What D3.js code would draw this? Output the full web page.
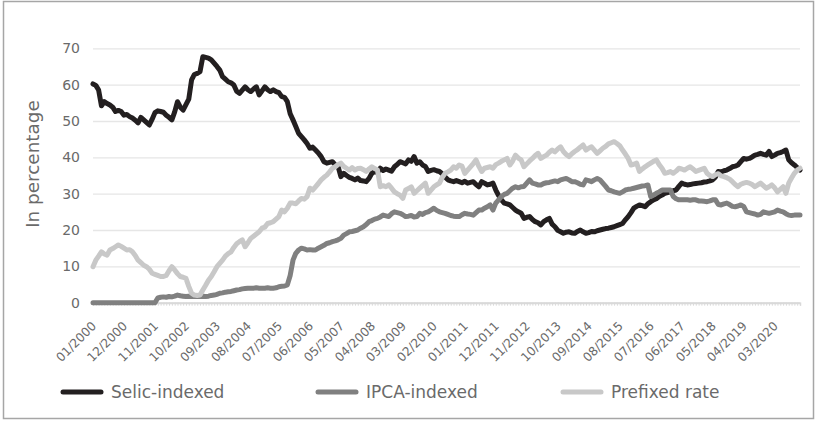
<!DOCTYPE html>
<html>
<head>
<meta charset="utf-8">
<script src="https://cdn.jsdelivr.net/npm/d3@7"></script>
<style>
  html, body { margin: 0; padding: 0; background: #fff; }
  svg { display: block; }
  text { font-family: "DejaVu Sans", "Liberation Sans", Arial, sans-serif; font-weight: normal; }
</style>
</head>
<body>
<svg id="chart" width="816" height="421"></svg>
<script>
// ---- DATA (monthly, 01/2000 .. 12/2020, share of public debt in %) ----
const startYear = 2000;
const nMonths = 252;

const seriesNames = ["Selic-indexed", "IPCA-indexed", "Prefixed rate"];

const selic = [
  60.2, 59.8, 58.5, 54.2, 55.3, 54.8, 54.4, 53.8, 52.6, 52.9, 52.6, 51.6,
  51.8, 51.2, 50.8, 50.2, 49.5, 51.0, 50.3, 49.6, 48.9, 50.5, 52.3, 52.8,
  52.6, 52.4, 51.6, 51.0, 50.3, 52.5, 55.3, 53.8, 53.0, 54.5, 56.0, 61.3,
  62.8, 63.1, 63.6, 67.7, 67.5, 67.3, 66.8, 65.9, 65.0, 64.0, 62.2, 61.5,
  60.8, 60.5, 59.9, 58.2, 57.6, 58.5, 59.4, 58.6, 58.1, 58.8, 59.4, 57.2,
  58.3, 59.4, 58.6, 58.1, 58.6, 58.1, 57.8, 56.7, 56.5, 55.3, 52.0, 50.3,
  48.5, 46.6, 45.7, 44.8, 43.8, 42.5, 42.8, 42.0, 41.2, 40.2, 38.8, 38.4,
  38.6, 38.8, 37.9, 37.5, 34.7, 35.6, 35.0, 34.5, 34.2, 33.8, 34.3, 33.6,
  33.5, 33.3, 34.2, 35.6, 36.1, 35.8, 37.0, 36.4, 36.8, 36.5, 36.2, 37.4,
  38.0, 38.8, 38.5, 38.2, 39.3, 38.9, 40.2, 38.4, 38.8, 37.9, 37.5, 36.1,
  36.4, 36.6, 36.3, 36.1, 35.5, 34.6, 33.8, 33.5, 33.3, 33.6, 33.3, 33.0,
  33.4, 32.9, 33.1, 33.3, 32.5, 31.9, 33.3, 32.9, 32.4, 32.6, 32.9, 31.0,
  29.5, 28.3, 27.4, 27.2, 26.9, 26.2, 25.5, 25.0, 24.6, 23.2, 23.5, 23.7,
  22.9, 22.3, 22.0, 21.4, 22.3, 22.8, 23.2, 21.6, 20.9, 19.9, 19.5, 19.1,
  19.4, 19.5, 19.2, 19.1, 19.6, 20.0, 19.5, 19.1, 19.3, 19.6, 19.5, 19.8,
  20.0, 20.2, 20.4, 20.5, 20.7, 20.9, 21.2, 21.5, 21.8, 22.8, 23.7, 24.8,
  26.0, 26.5, 26.9, 26.7, 26.4, 27.2, 27.8, 28.3, 28.6, 29.2, 29.6, 30.1,
  30.3, 30.5, 30.8, 31.0, 32.0, 32.9, 32.6, 32.4, 32.5, 32.7, 32.8, 32.9,
  33.0, 33.2, 33.3, 33.5, 33.8, 34.6, 36.1, 36.0, 36.3, 36.5, 36.9, 37.4,
  37.6, 37.9, 38.8, 39.7, 39.5, 39.7, 40.1, 40.6, 40.8, 41.1, 40.8, 40.6,
  41.6, 40.2, 40.6, 41.1, 41.3, 41.6, 42.0, 39.3, 38.5, 37.9, 37.2, 36.5
];

const ipca = [
  0, 0, 0, 0, 0, 0, 0, 0, 0, 0, 0, 0,
  0, 0, 0, 0, 0, 0, 0, 0, 0, 0, 0, 1.3,
  1.5, 1.6, 1.5, 1.7, 1.6, 1.8, 2.1, 1.9, 1.8, 1.7, 1.8, 1.7,
  1.7, 1.8, 1.7, 1.8, 1.7, 1.8, 2.0, 2.1, 2.3, 2.6, 2.7, 2.9,
  3.0, 3.1, 3.3, 3.5, 3.6, 3.8, 3.9, 4.0, 4.0, 4.0, 4.1, 4.0,
  4.0, 4.0, 4.1, 4.0, 4.0, 4.1, 4.4, 4.5, 4.6, 4.9, 7.5, 11.7,
  13.6, 14.5, 15.0, 14.8, 14.5, 14.6, 14.5, 14.5, 15.0, 15.4, 15.8, 16.3,
  16.5, 16.8, 17.0, 17.3, 17.7, 18.6, 19.0, 19.5, 19.6, 19.8, 20.0, 20.5,
  20.9, 21.5, 22.3, 22.6, 23.0, 23.2, 23.6, 24.1, 23.9, 23.7, 24.5, 25.0,
  24.8, 24.6, 24.2, 23.7, 23.8, 24.0, 23.6, 23.7, 24.6, 24.3, 24.8, 25.0,
  25.5, 26.0, 25.4, 25.0, 24.8, 24.6, 24.3, 24.0, 23.8, 23.7, 23.7, 24.2,
  24.6, 24.4, 24.3, 24.1, 24.8, 25.5, 25.5, 26.0, 26.4, 26.9, 25.5, 27.4,
  28.3, 29.2, 29.8, 30.1, 30.8, 31.5, 31.9, 31.6, 31.9, 32.0, 32.9, 33.8,
  32.9, 32.7, 32.4, 32.4, 32.8, 33.0, 33.1, 33.3, 33.5, 33.3, 33.8, 34.0,
  34.2, 33.8, 33.3, 33.3, 33.0, 32.6, 32.4, 33.8, 33.6, 33.3, 33.8, 34.2,
  33.8, 32.9, 32.0, 31.0, 30.8, 30.5, 30.3, 30.1, 30.5, 31.0, 31.2, 31.3,
  31.5, 31.7, 31.9, 32.1, 32.2, 32.4, 29.2, 29.6, 30.1, 30.5, 31.0, 31.0,
  31.0, 31.0, 29.2, 28.6, 28.3, 28.3, 28.3, 28.3, 28.2, 28.3, 28.3, 28.0,
  28.0, 27.9, 27.8, 28.0, 28.3, 28.3, 27.0, 26.9, 27.2, 27.4, 27.0, 26.5,
  26.4, 26.6, 26.9, 26.5, 25.0, 24.8, 24.6, 24.4, 24.1, 24.3, 25.0, 24.8,
  24.6, 24.8, 25.0, 25.5, 25.2, 25.0, 24.5, 24.1, 24.0, 24.1, 24.1, 24.1
];

const prefixed = [
  9.9, 11.7, 12.8, 14.0, 13.4, 13.1, 14.5, 14.9, 15.4, 15.9, 15.5, 15.0,
  14.5, 14.6, 14.0, 13.0, 11.7, 11.0, 10.3, 9.9, 9.2, 8.1, 7.8, 7.5,
  7.2, 7.2, 7.5, 8.8, 9.9, 9.0, 8.0, 7.2, 7.0, 6.7, 4.5, 2.6,
  2.1, 2.0, 2.1, 3.5, 4.8, 6.2, 7.2, 8.5, 9.9, 10.8, 11.7, 12.8,
  13.5, 14.0, 15.2, 16.2, 16.8, 17.3, 15.4, 16.5, 17.7, 18.3, 18.9, 19.5,
  20.5, 20.8, 21.8, 22.0, 22.3, 23.0, 23.7, 25.5, 25.0, 26.0, 27.4, 27.4,
  27.2, 28.0, 28.7, 28.5, 29.2, 31.5, 31.0, 31.9, 32.8, 33.8, 34.5, 35.1,
  36.0, 37.0, 37.4, 38.0, 38.4, 37.5, 37.0, 36.5, 37.2, 36.5, 36.9, 37.0,
  36.6, 36.1, 36.8, 37.4, 36.9, 36.5, 31.9, 32.2, 31.9, 32.4, 31.5, 30.5,
  30.0, 29.6, 28.7, 31.0, 31.4, 31.9, 30.1, 30.8, 31.5, 32.2, 32.9, 30.1,
  31.0, 31.9, 32.4, 32.9, 34.5, 35.6, 36.0, 36.5, 37.4, 37.0, 37.9, 37.6,
  35.6, 36.5, 37.4, 38.3, 39.3, 37.5, 36.1, 37.0, 37.2, 37.4, 37.0, 38.0,
  38.4, 38.9, 39.3, 39.7, 37.9, 39.0, 40.6, 39.8, 39.3, 37.4, 38.2, 39.0,
  39.7, 40.5, 41.1, 39.7, 40.2, 40.6, 41.4, 42.0, 41.5, 42.3, 42.9, 41.6,
  40.8, 40.2, 41.0, 41.6, 42.1, 42.8, 43.4, 42.0, 42.5, 42.9, 42.0, 41.1,
  41.8, 42.5, 43.0, 43.7, 44.0, 44.3, 43.8, 43.2, 42.0, 40.9, 39.7, 37.9,
  38.1, 38.4, 36.1, 36.8, 37.4, 37.9, 38.4, 38.9, 39.3, 38.0, 37.0, 35.6,
  35.8, 36.1, 35.6, 36.2, 37.0, 36.8, 36.5, 37.0, 37.4, 36.8, 36.1, 36.4,
  36.7, 37.0, 35.6, 35.0, 34.7, 35.2, 35.5, 34.9, 34.7, 34.4, 34.0, 33.3,
  32.5, 31.9, 32.6, 32.9, 33.1, 32.9, 32.5, 31.9, 32.4, 32.9, 32.2, 31.5,
  31.9, 32.4, 31.6, 30.5, 31.2, 31.9, 30.1, 32.9, 34.3, 35.6, 36.5, 37.0
];

const tickLabels = [
  "01/2000", "12/2000", "11/2001", "10/2002", "09/2003", "08/2004",
  "07/2005", "06/2006", "05/2007", "04/2008", "03/2009", "02/2010",
  "01/2011", "12/2011", "11/2012", "10/2013", "09/2014", "08/2015",
  "07/2016", "06/2017", "05/2018", "04/2019", "03/2020"
];
const yTicks = [0, 10, 20, 30, 40, 50, 60, 70];
const yTitle = "In percentage";

// ---- LAYOUT / STYLE ----
const colors = ["#231f20", "#808080", "#c8c8c8"];
const plotLeft = 93, plotRight = 800, plotTop = 48.3, plotBottom = 302.7;
const textColor = "#6a6a6a";

const months = d3.range(nMonths).map(i =>
  String(i % 12 + 1).padStart(2, "0") + "/" + (startYear + Math.floor(i / 12)));

const svg = d3.select("#chart");

// outer frame
svg.append("rect")
  .attr("x", 3.5).attr("y", 1.5).attr("width", 810).attr("height", 417)
  .attr("fill", "none").attr("stroke", "#a6a6a6").attr("stroke-width", 1.5);

const x = d3.scalePoint().domain(months).range([plotLeft, plotRight]);
const y = d3.scaleLinear().domain([0, 70]).range([plotBottom, plotTop]);

// gridlines + y labels
const yAxis = d3.axisLeft(y).tickValues(yTicks).tickSize(-(plotRight - plotLeft)).tickPadding(13);
const gy = svg.append("g").attr("transform", `translate(${plotLeft},0)`).call(yAxis);
gy.select(".domain").remove();
gy.selectAll(".tick line").attr("stroke", "#e6e6e6").attr("stroke-width", 1.3)
  .filter(d => d === 0).attr("stroke", "#d9d9d9").attr("stroke-width", 2);
gy.selectAll(".tick text").attr("fill", textColor).attr("font-size", 14)
  .attr("font-family", null);

// x axis: monthly minor ticks
const gx = svg.append("g").attr("transform", `translate(0,${plotBottom})`);
gx.call(d3.axisBottom(x).tickValues(months).tickSize(3).tickFormat(""));
gx.select(".domain").attr("stroke", "#d9d9d9").attr("stroke-width", 1.5);
gx.selectAll(".tick line").attr("stroke", "#d9d9d9").attr("stroke-width", 1);

// x labels
const gl = svg.append("g");
gl.selectAll("text").data(tickLabels).join("text")
  .attr("transform", d => `translate(${x(d) + 1},${plotBottom + 21}) rotate(-45)`)
  .attr("text-anchor", "end")
  .attr("dy", "0.35em")
  .attr("fill", textColor)
  .attr("font-size", 12.2)
  .text(d => d);

// y title
svg.append("text")
  .attr("transform", `translate(38.5,164) rotate(-90)`)
  .attr("text-anchor", "middle")
  .attr("fill", textColor)
  .attr("font-size", 18.4)
  .text(yTitle);

// lines
const line = d3.line().x((d, i) => x(months[i])).y(d => y(d));
const allSeries = [selic, ipca, prefixed];
svg.append("g").selectAll("path").data(allSeries).join("path")
  .attr("d", d => line(d))
  .attr("fill", "none")
  .attr("stroke", (d, i) => colors[i])
  .attr("stroke-width", 5)
  .attr("stroke-linejoin", "round")
  .attr("stroke-linecap", "round");

// legend
const legendX = [63, 318, 563];
const lg = svg.append("g").selectAll("g").data(seriesNames).join("g")
  .attr("transform", (d, i) => `translate(${legendX[i]},392)`);
lg.append("line").attr("x1", 0).attr("x2", 38).attr("y1", 0).attr("y2", 0)
  .attr("stroke", (d, i) => colors[i]).attr("stroke-width", 5).attr("stroke-linecap", "round");
lg.append("text").attr("x", 48).attr("y", 0).attr("dy", "0.35em")
  .attr("fill", textColor).attr("font-size", 17)
  .text(d => d);
</script>
</body>
</html>
